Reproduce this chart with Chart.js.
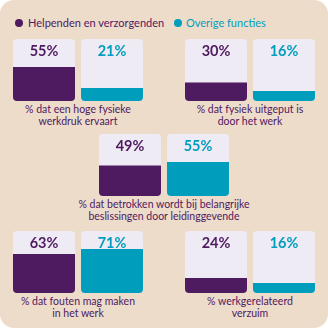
<!DOCTYPE html>
<html lang="nl">
<head>
<meta charset="utf-8">
<title>Werkdruk helpenden en verzorgenden</title>
<script src="https://cdn.jsdelivr.net/npm/chart.js@4"></script>
<style>
  html, body { margin: 0; padding: 0; background: #ffffff; }
  .panel {
    position: relative;
    width: 328px;
    height: 328px;
    background: #eedccb;
    border-radius: 14px;
    overflow: hidden;
    font-family: "Lato", "Noto Sans", sans-serif;
    color: #4e1a60;
  }
  .legend-item {
    position: absolute;
    top: 16px;
    font-size: 11px;
    line-height: 14px;
    white-space: nowrap;
  }
  .legend-item .dot {
    position: absolute;
    left: -13px;
    top: 3px;
    width: 8px;
    height: 8px;
    border-radius: 50%;
  }
  .legend-helpenden { left: 28px; color: #4e1a60; }
  .legend-helpenden .dot { background: #4e1a60; }
  .legend-overige { left: 186px; color: #009ebc; }
  .legend-overige .dot { left: -12px; background: #009ebc; }
  .block {
    position: absolute;
    width: 200px;
  }
  .block canvas { display: block; margin: 0 auto; }
  .block p {
    margin: 2px 0 0 0;
    text-align: center;
    font-size: 10.5px;
    line-height: 12px;
  }
  #block0 { left: -22px; top: 39px; }
  #block1 { left: 150px; top: 39px; }
  #block2 { left: 64px; top: 134px; }
  #block3 { left: -22px; top: 231px; }
  #block4 { left: 150px; top: 231px; }
</style>
</head>
<body>
<div class="panel" id="panel">
  <div class="legend-item legend-helpenden"><span class="dot"></span><span id="legend0"></span></div>
  <div class="legend-item legend-overige"><span class="dot"></span><span id="legend1"></span></div>
</div>

<script>
// Data luettuna kuvasta
const groups = ["Helpenden en verzorgenden", "Overige functies"];
const captions = [
  ["% dat een hoge fysieke", "werkdruk ervaart"],
  ["% dat fysiek uitgeput is", "door het werk"],
  ["% dat betrokken wordt bij belangrijke", "beslissingen door leidinggevende"],
  ["% dat fouten mag maken", "in het werk"],
  ["% werkgerelateerd", "verzuim"],
];
const helpendenValues = [55, 30, 49, 63, 24];
const overigeValues = [21, 16, 55, 71, 16];
const fullValue = [100, 100];

const purple = "#4e1a60";
const teal = "#009ebc";
const boxColor = "#efebf5";

document.getElementById("legend0").textContent = groups[0];
document.getElementById("legend1").textContent = groups[1];

// Prosenttiluku laatikon yläosaan
const percentLabels = {
  id: "percentLabels",
  afterDatasetsDraw(chart) {
    const ctx = chart.ctx;
    const top = chart.scales.y.getPixelForValue(100);
    const meta = chart.getDatasetMeta(0);
    ctx.save();
    ctx.font = "bold 14.5px Lato, 'Noto Sans', sans-serif";
    ctx.textAlign = "center";
    ctx.textBaseline = "middle";
    meta.data.forEach((bar, i) => {
      ctx.fillStyle = i === 0 ? purple : teal;
      ctx.fillText(chart.data.datasets[0].data[i] + "%", bar.x, top + 12);
    });
    ctx.restore();
  },
};

const panel = document.getElementById("panel");

captions.forEach((lines, i) => {
  const block = document.createElement("div");
  block.className = "block";
  block.id = "block" + i;
  const canvas = document.createElement("canvas");
  canvas.width = 136;
  canvas.height = 62;
  canvas.style.width = "136px";
  canvas.style.height = "62px";
  const caption = document.createElement("p");
  caption.innerHTML = lines.join("<br>");
  block.appendChild(canvas);
  block.appendChild(caption);
  panel.appendChild(block);

  new Chart(canvas, {
    type: "bar",
    data: {
      labels: groups,
      datasets: [
        {
          data: [helpendenValues[i], overigeValues[i]],
          backgroundColor: [purple, teal],
          borderRadius: { topLeft: 0, topRight: 0, bottomLeft: 4, bottomRight: 4 },
          borderSkipped: false,
          grouped: false,
          order: 1,
        },
        {
          data: fullValue,
          backgroundColor: boxColor,
          borderRadius: 4,
          borderSkipped: false,
          grouped: false,
          order: 2,
        },
      ],
    },
    options: {
      responsive: false,
      animation: false,
      devicePixelRatio: 1,
      layout: { padding: 0 },
      datasets: { bar: { barPercentage: 62 / 68, categoryPercentage: 1 } },
      plugins: { legend: { display: false }, tooltip: { enabled: false } },
      scales: {
        x: { display: false },
        y: { display: false, min: 0, max: 100 },
      },
    },
    plugins: [percentLabels],
  });
});
</script>
</body>
</html>
